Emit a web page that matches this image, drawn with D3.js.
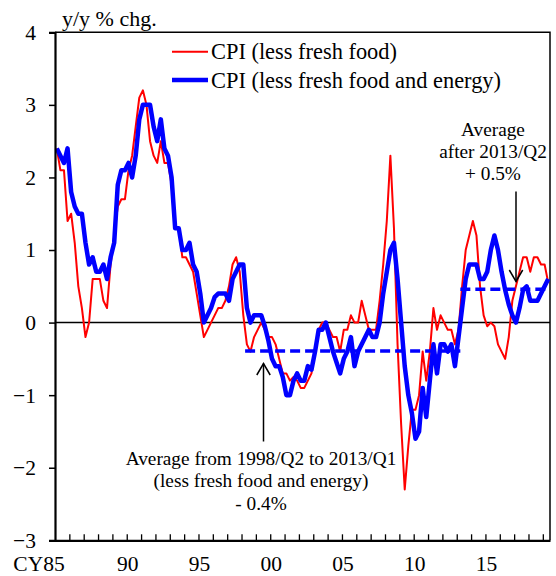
<!DOCTYPE html>
<meta charset="utf-8">
<style>
body { margin: 0; background: #fff; }
text { font-family: "Liberation Serif", "Times New Roman", serif; fill: #000; }
.line { fill: none; stroke-linejoin: round; }
</style>
<body>
<script src="https://d3js.org/d3.v7.min.js"></script>
<script>

// quarterly data, 1985/Q1 .. 2019/Q2
var startYear = 1985, nQuarters = 138;

// CPI (less fresh food), y/y % chg.
var cpiCore = [
  2.4, 2.1, 2.1, 1.4, 1.5, 1.1, 0.5, 0.2, -0.2, 0.0,
  0.6, 0.6, 0.6, 0.3, 0.2, 0.8, 1.2, 1.6, 1.7, 1.7,
  2.1, 2.3, 2.7, 3.1, 3.2, 3.0, 2.5, 2.3, 2.2, 2.5,
  2.2, 2.2, 1.9, 1.3, 1.3, 0.9, 0.9, 0.8, 0.7, 0.4,
  0.1, -0.2, -0.1, 0.0, 0.1, 0.2, 0.2, 0.3, 0.5, 0.8,
  0.9, 0.7, 0.1, -0.3, -0.4, -0.2, -0.1, 0.0, -0.1, -0.2,
  -0.2, -0.3, -0.5, -0.7, -0.7, -0.8, -0.75, -0.8, -0.9, -0.9,
  -0.8, -0.7, -0.4, -0.1, 0.0, 0.0, -0.1, -0.2, -0.2, -0.4,
  -0.1, -0.1, 0.1, 0.0, 0.0, 0.3, 0.1, -0.1, -0.1, -0.1,
  0.3, 0.8, 1.4, 2.3, 1.3, -0.3, -1.4, -2.3, -1.7, -1.2,
  -1.2, -1.0, -0.4, -0.8, -0.4, 0.2, -0.1, 0.1, 0.0, -0.1,
  -0.1, -0.3, -0.1, 0.5, 1.0, 1.2, 1.4, 1.2, 0.5, 0.1,
  -0.05, 0.0, -0.05, -0.3, -0.4, -0.5, -0.2, 0.3, 0.5, 0.7,
  0.9, 0.9, 0.7, 0.9, 0.9, 0.8, 0.8, 0.55
];

// CPI (less fresh food and energy), y/y % chg.
var cpiCoreCore = [
  2.4, 2.3, 2.2, 2.4, 1.8, 1.6, 1.5, 1.5, 1.1, 0.8,
  0.9, 0.7, 0.7, 0.8, 0.6, 0.9, 1.1, 1.9, 2.1, 2.1,
  2.2, 2.0, 2.3, 2.8, 3.0, 3.0, 3.0, 2.7, 2.5, 2.8,
  2.4, 2.3, 2.0, 1.3, 1.3, 1.0, 1.0, 1.1, 0.8, 0.7,
  0.4, 0.0, 0.1, 0.2, 0.35, 0.4, 0.4, 0.4, 0.3, 0.6,
  0.7, 0.8, 0.8, 0.2, 0.0, 0.1, 0.1, 0.1, -0.05, -0.25,
  -0.5, -0.6, -0.6, -0.75, -1.0, -1.0, -0.8, -0.7, -0.8, -0.8,
  -0.6, -0.65, -0.4, -0.1, -0.1, 0.0, -0.2, -0.4, -0.55, -0.7,
  -0.5, -0.4, -0.2, -0.6, -0.4, -0.3, -0.2, -0.1, -0.2, -0.2,
  0.0, 0.4, 0.7, 1.0, 1.1, 0.6, 0.0, -0.6, -1.0, -1.25,
  -1.6, -1.5, -0.9, -1.3, -0.8, -0.3, -0.7, -0.3, -0.3, -0.4,
  -0.3, -0.6, -0.2, 0.2, 0.6, 0.8, 0.8, 0.8, 0.6, 0.6,
  0.7, 1.0, 1.2, 1.0, 0.7, 0.45, 0.25, 0.1, 0.0, 0.2,
  0.45, 0.5, 0.3, 0.3, 0.3, 0.4, 0.5, 0.6
];

// period averages of the less-fresh-food-and-energy series
var avgLabels = ["1998/Q2-2013/Q1", "2013/Q2-"];
var avgFrom = [1998.25, 2013.25];
var avgTo = [2013.25, 2019.5];
var avgValues = [-0.39, 0.46];

var yTicks = [-3, -2, -1, 0, 1, 2, 3, 4];
var xLabelYears = [1985, 1990, 1995, 2000, 2005, 2010, 2015];
var xLabels = ["CY85", "90", "95", "00", "05", "10", "15"];

var seriesNames = ["CPI (less fresh food)", "CPI (less fresh food and energy)"];

var width = 556, height = 576;
var margin = {top: 32.3, right: 6, bottom: 35.7, left: 55};

var svg = d3.select("body").append("svg")
    .attr("width", width)
    .attr("height", height);

var x = d3.scaleLinear().domain([1985, 2019.5]).range([margin.left, width - margin.right]);
var y = d3.scaleLinear().domain([-3, 4]).range([height - margin.bottom, margin.top]);

// time of each quarter (centre of the quarter)
var t = d3.range(nQuarters).map(function(i) { return startYear + (i + 0.5) / 4; });

// frame: top and right
svg.append("path")
    .attr("d", "M" + x.range()[0] + "," + y(4) + "H" + x.range()[1] + "V" + y(-3))
    .attr("fill", "none").attr("stroke", "#000").attr("stroke-width", 1.5);

// zero line
svg.append("line")
    .attr("x1", x.range()[0]).attr("x2", x.range()[1])
    .attr("y1", y(0)).attr("y2", y(0))
    .attr("stroke", "#000").attr("stroke-width", 1.5);

var line = d3.line()
    .x(function(d, i) { return x(t[i]); })
    .y(function(d) { return y(d); });

svg.append("path").datum(cpiCore)
    .attr("class", "line")
    .attr("stroke", "#ff0000").attr("stroke-width", 2)
    .attr("d", line);

svg.append("path").datum(cpiCoreCore)
    .attr("class", "line")
    .attr("stroke", "#0000ff").attr("stroke-width", 4.5)
    .attr("d", line);

// average lines
avgValues.forEach(function(v, k) {
  svg.append("line")
      .attr("x1", x(avgFrom[k])).attr("x2", x(avgTo[k]))
      .attr("y1", y(v)).attr("y2", y(v))
      .attr("stroke", "#0000ff").attr("stroke-width", 3.5)
      .attr("stroke-dasharray", "10,5");
});

// y axis
var yAxis = svg.append("g")
    .attr("transform", "translate(" + x.range()[0] + ",0)")
    .call(d3.axisLeft(y).tickValues(yTicks).tickSize(6).tickPadding(13).tickFormat(d3.format("d")));
yAxis.select(".domain").attr("stroke-width", 2.2);
yAxis.selectAll(".tick line").attr("stroke-width", 1.5);
yAxis.selectAll("text").style("font-size", "21.5px").attr("font-family", null);

// x axis: yearly ticks pointing up
var xAxis = svg.append("g")
    .attr("transform", "translate(0," + y(-3) + ")")
    .call(d3.axisBottom(x).tickValues(d3.range(1986, 2020)).tickSizeInner(-6).tickSizeOuter(0).tickFormat(""));
xAxis.select(".domain").attr("stroke-width", 2.2);
xAxis.selectAll(".tick line").attr("stroke-width", 1.3);

svg.append("g").selectAll("text")
  .data(xLabels)
  .join("text")
    .attr("x", function(d, i) { return x(xLabelYears[i]) + (i === 0 ? -16 : 1); })
    .attr("y", 571)
    .attr("text-anchor", "middle")
    .style("font-size", "21.5px")
    .text(function(d) { return d; });

// y axis title
svg.append("text")
    .attr("x", 62).attr("y", 26)
    .style("font-size", "22px")
    .text("y/y % chg.");

// legend
var legend = svg.append("g");
var legColors = ["#ff0000", "#0000ff"], legWidths = [2, 4.5];
seriesNames.forEach(function(name, k) {
  var ly = 51.7 + k * 28.3;
  legend.append("line")
      .attr("x1", 172).attr("x2", 208)
      .attr("y1", ly).attr("y2", ly)
      .attr("stroke", legColors[k]).attr("stroke-width", legWidths[k]);
  legend.append("text")
      .attr("x", 211).attr("y", ly + 7.5)
      .style("font-size", "22.4px")
      .text(name);
});

// annotations
function arrow(xp, y1, y2) {
  var dir = y2 > y1 ? -1 : 1;
  svg.append("line")
      .attr("x1", xp).attr("x2", xp).attr("y1", y1).attr("y2", y2)
      .attr("stroke", "#000").attr("stroke-width", 1.5);
  svg.append("path")
      .attr("d", "M" + (xp - 6.7) + "," + (y2 + dir * 11.5) + "L" + xp + "," + y2 + "L" + (xp + 6.7) + "," + (y2 + dir * 11.5))
      .attr("fill", "none").attr("stroke", "#000").attr("stroke-width", 1.5);
}

arrow(263.5, 441.5, 363.5);
var note1 = ["Average from 1998/Q2 to 2013/Q1", "(less fresh food and energy)", "- 0.4%"];
svg.append("g").selectAll("text")
  .data(note1)
  .join("text")
    .attr("x", 261).attr("y", function(d, i) { return 464.5 + i * 22.5; })
    .attr("text-anchor", "middle")
    .style("font-size", "19.3px")
    .text(function(d) { return d; });

arrow(516, 191.5, 281.5);
var note2 = ["Average", "after 2013/Q2", "+ 0.5%"];
svg.append("g").selectAll("text")
  .data(note2)
  .join("text")
    .attr("x", 493).attr("y", function(d, i) { return 135.5 + i * 22.3; })
    .attr("text-anchor", "middle")
    .style("font-size", "19.3px")
    .text(function(d) { return d; });

</script>
</body>
